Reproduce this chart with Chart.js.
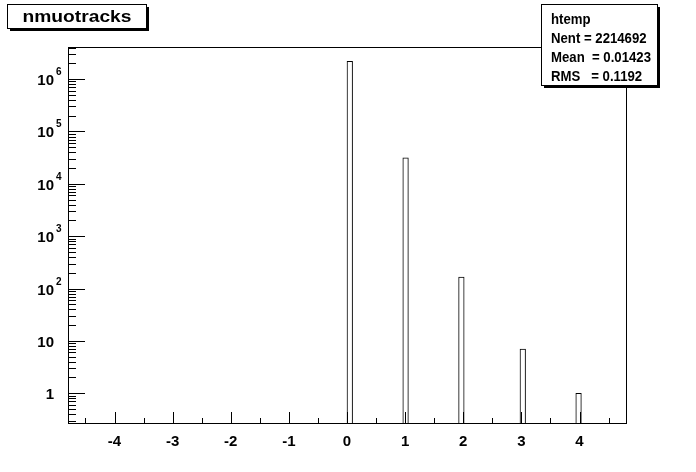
<!DOCTYPE html>
<html>
<head>
<meta charset="utf-8">
<script src="https://cdn.jsdelivr.net/npm/chart.js@4.4.1/dist/chart.umd.min.js"></script>
<style>
  html, body { margin: 0; padding: 0; background: #fff; }
  canvas { display: block; }
</style>
</head>
<body>
<canvas id="grafik" width="696" height="472"></canvas>
<script>
// isi histogram nmuotracks (nilai -> jumlah entri)
const nilaiMuon = [0, 1, 2, 3, 4];
const jumlahEntri = [2183359, 31160, 165, 7, 1];

// sumbu
const tickX = [-4, -3, -2, -1, 0, 1, 2, 3, 4];
const tickY = [1, 10, 100, 1000, 10000, 100000, 1000000];
const dasarLabelY = ['1', '10', '10', '10', '10', '10', '10'];
const pangkatLabelY = ['', '', '2', '3', '4', '5', '6'];

// judul dan kotak statistik
const judul = 'nmuotracks';
const barisStat = ['htemp', 'Nent = 2214692', 'Mean  = 0.01423', 'RMS   = 0.1192'];

const jumlahBin = 100;
const xMin = -4.8, xMax = 4.8;
const lebarBin = (xMax - xMin) / jumlahBin;

// bangun bin histogram dari data di atas
const labelBin = Array.from({length: jumlahBin}, (_, i) => (xMin + (i + 0.5) * lebarBin).toFixed(3));
const isiBin = Array(jumlahBin).fill(null);
nilaiMuon.forEach((v, i) => {
  const idx = Math.floor((v - xMin) / lebarBin + 1e-6);
  isiBin[idx] = jumlahEntri[i];
});

const FONT = '"Liberation Sans", Arial, Helvetica, sans-serif';

function teksMelar(ctx, teks, x, y, lebarTarget, align) {
  // X11 helvetica di gambar asli lebih lebar, jadi teks ditarik mendatar
  const w = ctx.measureText(teks).width;
  const sx = lebarTarget / w;
  ctx.save();
  ctx.textAlign = 'left';
  let x0 = x;
  if (align === 'center') x0 = x - lebarTarget / 2;
  ctx.translate(x0, y);
  ctx.scale(sx, 1);
  ctx.fillText(teks, 0, 0);
  ctx.restore();
}

function kotakBayangan(ctx, x, y, w, h) {
  ctx.fillStyle = '#000';
  ctx.fillRect(x + 3, y + 3, w - 1, h - 1);
  ctx.fillStyle = '#fff';
  ctx.fillRect(x, y, w, h);
  ctx.strokeStyle = '#000';
  ctx.lineWidth = 1;
  ctx.strokeRect(x + 0.5, y + 0.5, w - 1, h - 1);
}

const gayaRoot = {
  id: 'gayaRoot',
  afterDraw(chart) {
    const ctx = chart.ctx;
    const area = chart.chartArea;
    const sx = chart.scales.xv;
    const sy = chart.scales.y;

    ctx.save();
    ctx.strokeStyle = '#000';
    ctx.lineWidth = 1;

    // bingkai
    ctx.strokeRect(area.left + 0.5, area.top + 0.5, area.right - area.left, area.bottom - area.top);

    // tick sumbu x (ke dalam)
    ctx.beginPath();
    tickX.forEach(v => {
      const px = Math.round(sx.getPixelForValue(v)) + 0.5;
      ctx.moveTo(px, area.bottom);
      ctx.lineTo(px, area.bottom - 11);
    });
    for (let v = tickX[0] - 0.5; v <= tickX[tickX.length - 1] + 0.5; v += 1) {
      const px = Math.round(sx.getPixelForValue(v)) + 0.5;
      ctx.moveTo(px, area.bottom);
      ctx.lineTo(px, area.bottom - 5);
    }

    // tick sumbu y log
    for (let d = -1; d <= 6; d++) {
      for (let m = 1; m <= 9; m++) {
        const v = m * Math.pow(10, d);
        if (v < sy.min || v > sy.max) continue;
        const py = Math.round(sy.getPixelForValue(v)) + 0.5;
        ctx.moveTo(area.left, py);
        ctx.lineTo(area.left + (m === 1 ? 17 : 8), py);
      }
    }
    ctx.stroke();

    // label sumbu x
    ctx.fillStyle = '#000';
    ctx.font = 'bold 15px ' + FONT;
    ctx.textAlign = 'center';
    ctx.textBaseline = 'alphabetic';
    tickX.forEach(v => {
      ctx.fillText(String(v), sx.getPixelForValue(v), 446);
    });

    // label sumbu y
    tickY.forEach((v, i) => {
      const py = sy.getPixelForValue(v);
      ctx.font = 'bold 15px ' + FONT;
      ctx.textAlign = 'right';
      ctx.fillText(dasarLabelY[i], 54, py + 6);
      if (pangkatLabelY[i]) {
        ctx.font = 'bold 10px ' + FONT;
        ctx.textAlign = 'left';
        ctx.fillText(pangkatLabelY[i], 56, py - 4);
      }
    });

    // kotak judul
    kotakBayangan(ctx, 7, 4, 140, 25);
    ctx.fillStyle = '#000';
    ctx.font = 'bold 17px ' + FONT;
    teksMelar(ctx, judul, 77, 22, 109, 'center');

    // kotak statistik
    kotakBayangan(ctx, 541, 4, 117, 82);
    ctx.fillStyle = '#000';
    ctx.font = 'bold 14px ' + FONT;
    const skala = 100 / ctx.measureText(barisStat[2]).width;
    const barisY = [24, 43, 62, 81];
    barisStat.forEach((t, i) => {
      teksMelar(ctx, t, 551, barisY[i], ctx.measureText(t).width * skala, 'left');
    });

    ctx.restore();
  }
};

const ctx = document.getElementById('grafik').getContext('2d');
window.histChart = new Chart(ctx, {
  type: 'bar',
  data: {
    labels: labelBin,
    datasets: [{
      label: 'nmuotracks',
      data: isiBin,
      backgroundColor: '#fff',
      borderColor: '#000',
      borderWidth: 1,
      borderSkipped: 'bottom',
      barPercentage: 1,
      categoryPercentage: 1
    }]
  },
  options: {
    responsive: false,
    animation: false,
    layout: { padding: { left: 68, right: 70, top: 47, bottom: 49 } },
    plugins: {
      legend: { display: false },
      tooltip: { enabled: false }
    },
    scales: {
      x: { display: false },
      xv: { type: 'linear', axis: 'x', display: false, offset: false, min: xMin, max: xMax },
      y: { type: 'logarithmic', display: false, min: 0.27, max: 4.1e6 }
    }
  },
  plugins: [gayaRoot]
});
</script>
</body>
</html>
